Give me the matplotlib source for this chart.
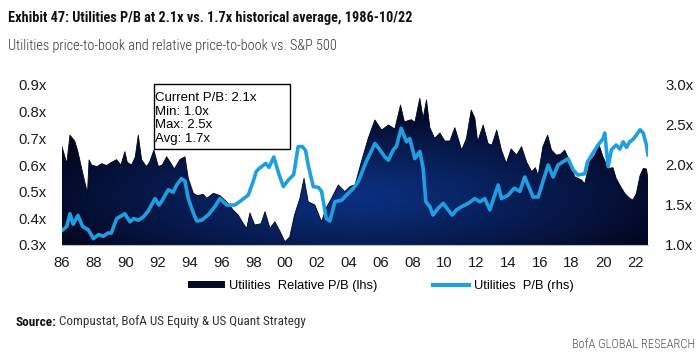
import numpy as np
import matplotlib
matplotlib.use("Agg")
import matplotlib.pyplot as plt
from matplotlib.patches import Patch, Rectangle
from matplotlib.lines import Line2D
from matplotlib.colors import to_rgb

# ---------------- data ----------------
rel_years = [1986.0, 1986.3, 1986.5, 1986.8, 1987.0, 1987.3, 1987.6, 1987.7, 1987.86,
             1988.2, 1988.5, 1988.8, 1989.1, 1989.43, 1989.7, 1989.95, 1990.1, 1990.37,
             1990.6, 1990.79, 1991.0, 1991.3, 1991.5, 1991.77, 1992.05, 1992.3, 1992.57,
             1992.8, 1993.05, 1993.4, 1993.72, 1993.93, 1994.25, 1994.5, 1994.87, 1995.1,
             1995.5, 1995.92, 1996.34, 1996.75, 1997.07, 1997.38, 1997.6, 1997.8, 1998.1,
             1998.5, 1998.75, 1999.06, 1999.37, 1999.7, 2000.0, 2000.3, 2000.6, 2000.94,
             2001.2, 2001.46, 2001.88, 2002.3, 2002.6, 2002.93, 2003.35, 2003.76, 2004.1,
             2004.4, 2004.8, 2005.23, 2005.65, 2006.07, 2006.5, 2006.9, 2007.26, 2007.5,
             2007.95, 2008.16, 2008.47, 2008.68, 2008.89, 2009.1, 2009.4, 2009.73, 2010.04,
             2010.36, 2010.67, 2011.1, 2011.4, 2011.7, 2011.93, 2012.1, 2012.45, 2012.76,
             2013.0, 2013.3, 2013.6, 2013.9, 2014.2, 2014.55, 2014.86, 2015.17, 2015.5,
             2015.73, 2015.9, 2016.2, 2016.5, 2016.74, 2017.05, 2017.3, 2017.57, 2017.9,
             2018.2, 2018.62, 2018.83, 2019.14, 2019.46, 2019.73, 2019.98, 2020.3, 2020.6,
             2020.8, 2021.03, 2021.34, 2021.65, 2021.86, 2022.07, 2022.3, 2022.5, 2022.7,
             2022.8]
rel_pb = [0.669, 0.606, 0.712, 0.690, 0.650, 0.570, 0.494, 0.619, 0.600,
          0.594, 0.605, 0.598, 0.610, 0.620, 0.600, 0.650, 0.610, 0.600,
          0.630, 0.712, 0.620, 0.594, 0.610, 0.656, 0.594, 0.600, 0.631,
          0.610, 0.585, 0.620, 0.631, 0.550, 0.494, 0.485, 0.490, 0.475,
          0.494, 0.485, 0.462, 0.431, 0.412, 0.381, 0.362, 0.420, 0.375,
          0.380, 0.425, 0.362, 0.387, 0.350, 0.312, 0.330, 0.412, 0.475,
          0.550, 0.462, 0.450, 0.387, 0.440, 0.475, 0.525, 0.500, 0.520,
          0.525, 0.612, 0.700, 0.769, 0.731, 0.750, 0.735, 0.825, 0.762,
          0.770, 0.760, 0.850, 0.775, 0.844, 0.740, 0.700, 0.720, 0.690,
          0.690, 0.740, 0.656, 0.700, 0.806, 0.775, 0.687, 0.750, 0.680,
          0.675, 0.731, 0.656, 0.606, 0.660, 0.637, 0.669, 0.612, 0.575,
          0.590, 0.560, 0.669, 0.712, 0.656, 0.637, 0.640, 0.656, 0.612,
          0.556, 0.544, 0.530, 0.612, 0.637, 0.675, 0.630, 0.587, 0.590,
          0.550, 0.525, 0.494, 0.475, 0.469, 0.494, 0.560, 0.587, 0.585,
          0.550]

pb_years = [1986.0, 1986.3, 1986.5, 1986.7, 1987.0, 1987.3, 1987.65, 1987.97, 1988.3,
            1988.6, 1988.9, 1989.1, 1989.43, 1989.6, 1989.95, 1990.27, 1990.5, 1990.8,
            1991.1, 1991.4, 1991.84, 1992.1, 1992.3, 1992.67, 1992.98, 1993.2, 1993.5,
            1993.72, 1993.93, 1994.25, 1994.46, 1994.77, 1995.2, 1995.6, 1995.92, 1996.34,
            1996.86, 1997.28, 1997.7, 1998.0, 1998.2, 1998.4, 1998.8, 1999.0, 1999.3,
            1999.6, 1999.9, 2000.2, 2000.55, 2000.83, 2001.1, 2001.3, 2001.46, 2001.78,
            2002.1, 2002.3, 2002.6, 2002.82, 2003.14, 2003.56, 2003.87, 2004.3, 2004.6,
            2005.1, 2005.42, 2005.65, 2005.96, 2006.28, 2006.5, 2006.8, 2007.0, 2007.3,
            2007.63, 2007.84, 2008.16, 2008.47, 2008.68, 2008.85, 2009.1, 2009.3, 2009.62,
            2009.94, 2010.25, 2010.5, 2010.78, 2011.1, 2011.5, 2011.93, 2012.24, 2012.55,
            2012.87, 2013.18, 2013.39, 2013.6, 2014.0, 2014.4, 2014.75, 2015.06, 2015.27,
            2015.58, 2015.9, 2016.2, 2016.53, 2016.84, 2017.15, 2017.47, 2017.78, 2018.1,
            2018.4, 2018.83, 2019.0, 2019.35, 2019.66, 2019.98, 2020.08, 2020.3, 2020.5,
            2020.8, 2021.03, 2021.24, 2021.45, 2021.65, 2021.86, 2022.07, 2022.3, 2022.5,
            2022.7, 2022.8]
pb = [1.18, 1.23, 1.39, 1.26, 1.37, 1.23, 1.19, 1.08, 1.13,
      1.11, 1.15, 1.15, 1.33, 1.35, 1.39, 1.29, 1.33, 1.31,
      1.35, 1.42, 1.58, 1.50, 1.56, 1.69, 1.66, 1.75, 1.83,
      1.80, 1.58, 1.40, 1.30, 1.31, 1.38, 1.48, 1.58, 1.50,
      1.50, 1.56, 1.625, 1.79, 1.92, 1.96, 2.02, 1.97, 2.10,
      1.90, 1.73, 1.81, 1.88, 2.23, 2.23, 2.18, 2.00, 1.73,
      1.72, 1.67, 1.33, 1.30, 1.54, 1.56, 1.625, 1.71, 1.79,
      2.04, 2.17, 2.27, 2.19, 2.10, 2.06, 2.19, 2.23, 2.46,
      2.29, 2.33, 2.08, 2.17, 1.96, 1.54, 1.48, 1.375, 1.46,
      1.52, 1.44, 1.375, 1.44, 1.48, 1.52, 1.58, 1.54, 1.58,
      1.44, 1.625, 1.75, 1.58, 1.62, 1.71, 1.67, 1.85, 1.75,
      1.60, 1.60, 1.79, 2.00, 1.85, 2.00, 2.04, 2.08, 1.94,
      1.875, 1.89, 2.04, 2.15, 2.25, 2.33, 2.40, 1.98, 2.19,
      2.25, 2.20, 2.29, 2.22, 2.29, 2.32, 2.375, 2.44, 2.40,
      2.25, 2.125]

year_ticks = list(range(1986, 2023, 2))
year_labels = [f"{y % 100:02d}" for y in year_ticks]
left_ticks = [0.3, 0.4, 0.5, 0.6, 0.7, 0.8, 0.9]
left_labels = ["0.3x", "0.4x", "0.5x", "0.6x", "0.7x", "0.8x", "0.9x"]
right_ticks = [1.0, 1.5, 2.0, 2.5, 3.0]
right_labels = ["1.0x", "1.5x", "2.0x", "2.5x", "3.0x"]
stats_lines = ["Current P/B: 2.1x", "Min: 1.0x", "Max: 2.5x", "Avg: 1.7x"]
series_names = ["Utilities  Relative P/B (lhs)", "Utilities  P/B (rhs)"]

title = "Exhibit 47: Utilities P/B at 2.1x vs. 1.7x historical average, 1986-10/22"
subtitle = "Utilities price-to-book and relative price-to-book vs. S&P 500"
source_bold = "Source:"
source_rest = " Compustat, BofA US Equity & US Quant Strategy"
brand = "BofA GLOBAL RESEARCH"

# ---------------- styling ----------------
W, H = 700, 363
ARIAL = ["Liberation Sans", "DejaVu Sans"]
COND = ["Liberation Sans Narrow", "Roboto Condensed", "Roboto", "DejaVu Sans"]
BLUE = "#1d9fe2"
DARK = "#02041a"
MID = "#0b3080"
TXT = "#1a1a1a"

fig = plt.figure(figsize=(W / 100, H / 100), dpi=100)
fig.patch.set_facecolor("white")

def fx(px):
    return px / W

def fy(py):
    return 1 - py / H

ax = fig.add_axes([fx(62), fy(245), fx(648) - fx(62), fy(85) - fy(245)])
ax.set_xlim(1986, 2022.8)
ax.set_ylim(0.3, 0.9)

# area with radial gradient
poly = ax.fill_between(rel_years, 0.3, rel_pb, facecolor="none", edgecolor="none")
nx, ny = 500, 250
gx, gy = np.meshgrid(np.linspace(0, 1, nx), np.linspace(0, 1, ny))
d = np.sqrt(((gx - 0.5) / 0.6) ** 2 + ((gy - 0.3) / 0.6) ** 2)
t = np.clip(d, 0, 1) ** 1.15
c0 = np.array(to_rgb(MID))
c1 = np.array(to_rgb(DARK))
img = c0[None, None, :] * (1 - t[..., None]) + c1[None, None, :] * t[..., None]
im = ax.imshow(img, origin="lower", extent=[1986, 2022.8, 0.3, 0.9],
               aspect="auto", interpolation="bilinear", zorder=1)
im.set_clip_path(poly.get_paths()[0], transform=ax.transData)
ax.plot(rel_years, rel_pb, color=DARK, lw=0.6, zorder=1.5)

for s in ["left", "right", "top"]:
    ax.spines[s].set_visible(False)
ax.spines["bottom"].set_color("#bdbdbd")
ax.spines["bottom"].set_linewidth(0.8)
ax.spines["bottom"].set_zorder(2)

ax.set_xticks(year_ticks)
ax.set_xticklabels(year_labels)
ax.set_yticks(left_ticks)
ax.set_yticklabels(left_labels)
ax.tick_params(axis="x", length=0, pad=8, labelsize=10.7, labelcolor=TXT)
ax.tick_params(axis="y", length=0, pad=11, labelsize=10.7, labelcolor=TXT)
for lab in ax.get_xticklabels() + ax.get_yticklabels():
    lab.set_family(ARIAL)

ax2 = ax.twinx()
ax2.set_ylim(1.0, 3.0)
ax2.plot(pb_years, pb, color=BLUE, lw=2.6, solid_joinstyle="round", zorder=3)
for s in ["left", "right", "top", "bottom"]:
    ax2.spines[s].set_visible(False)
ax2.set_yticks(right_ticks)
ax2.set_yticklabels(right_labels)
ax2.tick_params(axis="y", length=0, pad=12.5, labelsize=10.7, labelcolor=TXT)
for lab in ax2.get_yticklabels():
    lab.set_family(ARIAL)

# stats box
fig.patches.append(Rectangle((fx(154), fy(149)), fx(290) - fx(154), fy(84) - fy(149),
                             transform=fig.transFigure, facecolor="white",
                             edgecolor="black", lw=1.0, zorder=5))
for i, line in enumerate(stats_lines):
    fig.text(fx(155), fy(98 + i * 13.6), line, ha="left", va="center",
             fontsize=9.5, family=ARIAL, color="black", zorder=6)

# legend
handles = [Patch(facecolor="#080b22", edgecolor="none"),
           Line2D([0], [0], color=BLUE, lw=3)]
fig.legend(handles, series_names, loc="center", bbox_to_anchor=(fx(381), fy(286)),
           ncol=2, frameon=False, prop={"family": ARIAL, "size": 9.3},
           handlelength=2.8, handleheight=0.55, handletextpad=0.35,
           columnspacing=4.3, borderpad=0)

# titles and footer
fig.canvas.draw()
r = fig.canvas.get_renderer()

def fit(txt, target_w):
    w = txt.get_window_extent(r).width
    txt.set_fontsize(txt.get_fontsize() * target_w / w)

t1 = fig.text(fx(8), fy(18), title, ha="left", va="center", fontsize=12,
              fontweight="bold", family=COND, color="#111111")
fit(t1, 405)
t2 = fig.text(fx(8), fy(46), subtitle, ha="left", va="center", fontsize=12,
              fontweight="light", family=COND, color="#333333")
fit(t2, 330)
s1 = fig.text(fx(15), fy(322), source_bold, ha="left", va="center", fontsize=9,
              fontweight="bold", family=COND, color="#111111")
s2 = fig.text(fx(15), fy(322), source_rest, ha="left", va="center", fontsize=9,
              family=COND, color="#333333")
fig.canvas.draw()
w1 = s1.get_window_extent(r).width
w2 = s2.get_window_extent(r).width
scale = 290 / (w1 + w2)
s1.set_fontsize(9 * scale)
s2.set_fontsize(9 * scale)
fig.canvas.draw()
w1 = s1.get_window_extent(r).width
s2.set_position((fx(15 + w1), fy(322)))
b = fig.text(fx(695), fy(345), brand, ha="right", va="center", fontsize=9,
             fontweight="light", family=COND, color="#555555")
fit(b, 123)

fig.savefig("out.png", dpi=100, facecolor="white")
